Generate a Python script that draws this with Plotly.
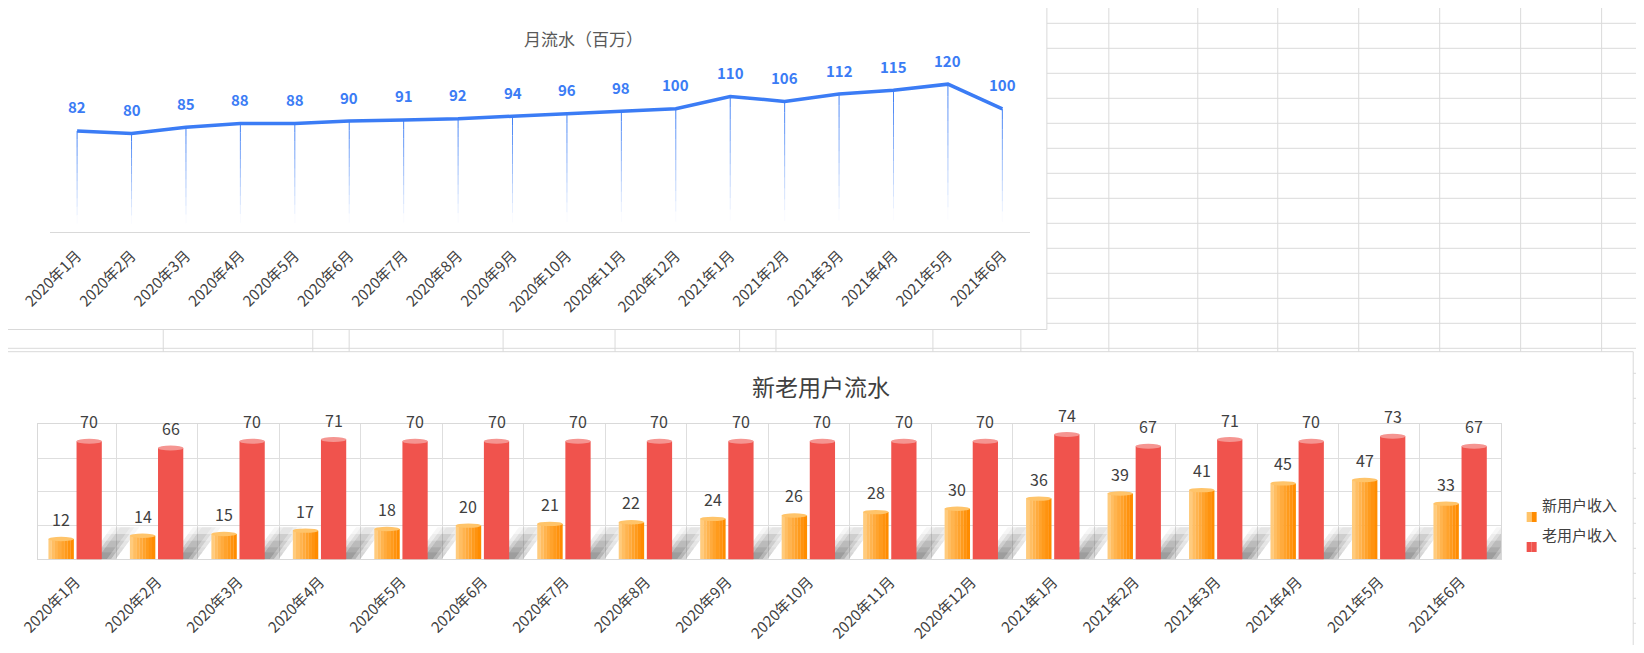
import plotly.graph_objects as go

# the page body adds an 8px margin, so the figure is the window minus 16px
W, H = 1628, 637
# where the figure lands in the photographed window (measured on earlier runs)
X0, SX = 36.7, 0.982
Y0 = 8

months = [
    "2020年1月", "2020年2月", "2020年3月", "2020年4月", "2020年5月", "2020年6月",
    "2020年7月", "2020年8月", "2020年9月", "2020年10月", "2020年11月", "2020年12月",
    "2021年1月", "2021年2月", "2021年3月", "2021年4月", "2021年5月", "2021年6月",
]
revenue = [82, 80, 85, 88, 88, 90, 91, 92, 94, 96, 98, 100, 110, 106, 112, 115, 120, 100]
new_users = [12, 14, 15, 17, 18, 20, 21, 22, 24, 26, 28, 30, 36, 39, 41, 45, 47, 33]
old_users = [70, 66, 70, 71, 70, 70, 70, 70, 70, 70, 70, 70, 74, 67, 71, 70, 73, 67]

BLUE = "#3b7cf5"
RED = "#f0534d"
RED_TOP = "#f59591"
ORANGE_STOPS = [(255, 203, 125), (255, 140, 0)]
SHEET_GRID = "#dadada"
TEXT = "#404040"
FONT = "Noto Sans CJK SC"


def px(x):
    return (x - X0) / SX / W


def py(y):
    return 1 - (y - Y0) / H


def mix(a, b, t):
    return "rgb(%d,%d,%d)" % tuple(round(a[i] + (b[i] - a[i]) * t) for i in range(3))


fig = go.Figure()

# ---- top chart: monthly revenue line ----
# thin drop lines fading out towards the axis
n_fade = 12
for k in range(n_fade):
    xs, ys = [], []
    for m, v in zip(months, revenue):
        xs += [m, m, None]
        ys += [v * (1 - k / n_fade), v * (1 - (k + 1) / n_fade), None]
    alpha = max(0.0, 1 - (k + 0.5) / (n_fade * 0.9))
    fig.add_trace(go.Scatter(
        x=xs, y=ys, mode="lines", xaxis="x", yaxis="y",
        line=dict(color="rgba(59,124,245,%.3f)" % alpha, width=1),
        hoverinfo="skip",
    ))

fig.add_trace(go.Scatter(
    x=months, y=revenue, mode="lines", xaxis="x", yaxis="y",
    line=dict(color=BLUE, width=3.5),
    name="月流水",
))

annotations = []
for m, v in zip(months, revenue):
    annotations.append(dict(
        x=m, y=v, xref="x", yref="y", text=str(v), showarrow=False,
        yshift=24, font=dict(family=FONT, size=15, color=BLUE, weight="bold"),
    ))

# ---- bottom chart: new vs old users (cylinder-like bars) ----
bar_w = 0.31
new_off = -0.335
old_off = 0.01
n_grad = 8
for j in range(n_grad):
    t = (j / (n_grad - 1)) ** 0.8
    fig.add_trace(go.Bar(
        x=months, y=new_users, xaxis="x2", yaxis="y2",
        width=bar_w / n_grad + 0.002, offset=new_off + j * bar_w / n_grad,
        marker=dict(color=mix(ORANGE_STOPS[0], ORANGE_STOPS[1], t), line=dict(width=0)),
        name="新用户收入", hoverinfo="y",
    ))

fig.add_trace(go.Bar(
    x=months, y=old_users, xaxis="x2", yaxis="y2",
    width=bar_w, offset=old_off,
    marker=dict(color=RED, line=dict(width=0)),
    name="老用户收入",
))

shapes = []

# spreadsheet background grid
for k in range(26):
    y = 23.3 + 25 * k
    if Y0 < y < H + Y0:
        shapes.append(dict(type="line", xref="paper", yref="paper", x0=px(0), x1=1,
                           y0=py(y), y1=py(y), line=dict(color=SHEET_GRID, width=1), layer="below"))
for x in [162, 311.6, 348, 502, 614, 738.6, 775, 932, 1020, 1108, 1197, 1277, 1358, 1439, 1520, 1601]:
    shapes.append(dict(type="line", xref="paper", yref="paper", x0=px(x), x1=px(x),
                       y0=0, y1=1, line=dict(color=SHEET_GRID, width=1), layer="below"))

# chart panels
shapes.append(dict(type="rect", xref="paper", yref="paper", x0=px(6), x1=px(1046), y0=py(329.5), y1=py(1.5),
                   fillcolor="white", line=dict(color="#d9d9d9", width=1), layer="below"))
shapes.append(dict(type="rect", xref="paper", yref="paper", x0=px(4.6), x1=px(1632.6), y0=py(680), y1=py(351.7),
                   fillcolor="white", line=dict(color="#d9d9d9", width=1), layer="below"))

# soft diagonal floor shadows cast by the red cylinders
sh_top = 19
for i in range(len(months)):
    base = i + old_off + bar_w
    for h in (19, 15, 11, 7, 4):
        lean = 0.29 * h / sh_top
        for hw in (0.17, 0.11, 0.06):
            shapes.append(dict(
                type="path", xref="x2", yref="y2", layer="between",
                path="M %f,0 L %f,0 L %f,%f L %f,%f Z" % (
                    base - hw, base + hw, base + lean + hw, h, base + lean - hw, h),
                fillcolor="rgba(100,100,100,0.055)", line=dict(width=0),
            ))

# cylinder caps
for i, (a, b) in enumerate(zip(new_users, old_users)):
    shapes.append(dict(type="circle", xref="x2", yref="y2",
                       x0=i + new_off, x1=i + new_off + bar_w, y0=a - 1.3, y1=a + 1.3,
                       fillcolor="#ffc46a", line=dict(width=0)))
    shapes.append(dict(type="circle", xref="x2", yref="y2",
                       x0=i + old_off, x1=i + old_off + bar_w, y0=-1.3, y1=1.3,
                       fillcolor=RED, line=dict(width=0)))
    shapes.append(dict(type="circle", xref="x2", yref="y2",
                       x0=i + old_off, x1=i + old_off + bar_w, y0=b - 1.5, y1=b + 1.5,
                       fillcolor=RED_TOP, line=dict(width=0)))

for i, (a, b) in enumerate(zip(new_users, old_users)):
    annotations.append(dict(x=i + new_off + bar_w / 2, y=a, xref="x2", yref="y2", text=str(a),
                            showarrow=False, yshift=20, font=dict(family=FONT, size=16, color=TEXT)))
    annotations.append(dict(x=i + old_off + bar_w / 2, y=b, xref="x2", yref="y2", text=str(b),
                            showarrow=False, yshift=20, font=dict(family=FONT, size=16, color=TEXT)))

# titles
annotations.append(dict(x=px(521), y=py(24), xref="paper", yref="paper", text="月流水（百万）",
                        showarrow=False, font=dict(family=FONT, size=17, color="#595959")))
annotations.append(dict(x=px(820), y=py(386), xref="paper", yref="paper", text="新老用户流水",
                        showarrow=False, font=dict(family=FONT, size=23, color=TEXT)))

# legend
for yc, label, cols in [(517, "新用户收入", ["#ffc46a", "#ff8c00"]), (547, "老用户收入", [RED, RED])]:
    shapes.append(dict(type="rect", xref="paper", yref="paper", x0=px(1526), x1=px(1531),
                       y0=py(yc + 5), y1=py(yc - 5), fillcolor=cols[0], line=dict(width=0)))
    shapes.append(dict(type="rect", xref="paper", yref="paper", x0=px(1531), x1=px(1536),
                       y0=py(yc + 5), y1=py(yc - 5), fillcolor=cols[1], line=dict(width=0)))
    annotations.append(dict(x=px(1539), y=py(yc), xref="paper", yref="paper", text=label,
                            xanchor="left", showarrow=False, font=dict(family=FONT, size=15, color=TEXT)))

# bottom plot area starts left of the drawable edge: trim the category range to match
left2, right2 = 33.7, 1500.8
cat_px = (right2 - left2) / len(months)
start2 = -0.5 + max(0.0, X0 - left2) / cat_px

tick_font = dict(family=FONT, size=15, color=TEXT)
fig.update_layout(
    width=W, height=H,
    margin=dict(l=0, r=0, t=0, b=0, pad=0),
    paper_bgcolor="white", plot_bgcolor="rgba(0,0,0,0)",
    showlegend=False, barmode="overlay",
    xaxis=dict(domain=[px(48.6), px(1028.7)], range=[-0.5, 17.5], type="category",
               showgrid=False, showline=True, linecolor="#d9d9d9", zeroline=False,
               ticks="", tickangle=-45, tickfont=tick_font, ticklabelstandoff=8, anchor="y"),
    yaxis=dict(domain=[py(232), py(59.5)], range=[0, 140], visible=False, anchor="x"),
    xaxis2=dict(domain=[max(0.0, px(left2)), px(right2)], range=[start2, 17.5], type="category",
                tickson="boundaries", showgrid=True, gridcolor="#dedede",
                showline=True, mirror=True, linecolor="#d9d9d9", zeroline=False,
                ticks="", tickangle=-45, tickfont=tick_font, ticklabelstandoff=7, anchor="y2"),
    yaxis2=dict(domain=[py(559.3), py(424.4)], range=[0, 80], dtick=20,
                showgrid=True, gridcolor="#dedede", showticklabels=False,
                showline=True, mirror=True, linecolor="#d9d9d9", zeroline=False, anchor="x2"),
    shapes=shapes,
    annotations=annotations,
)

fig.write_html("out.html")
